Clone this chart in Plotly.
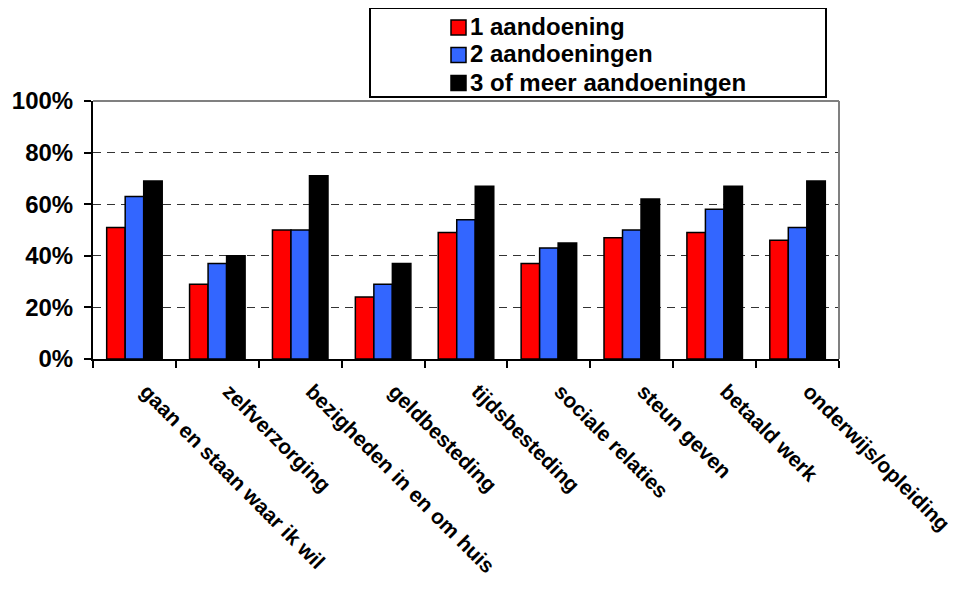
import plotly.graph_objects as go

categories = ["gaan en staan waar ik wil", "zelfverzorging", "bezigheden in en om huis",
              "geldbesteding", "tijdsbesteding", "sociale relaties", "steun geven",
              "betaald werk", "onderwijs/opleiding"]
series_names = ["1 aandoening", "2 aandoeningen", "3 of meer aandoeningen"]
one = [51, 29, 50, 24, 49, 37, 47, 49, 46]
two = [63, 37, 50, 29, 54, 43, 50, 58, 51]
three = [69, 40, 71, 37, 67, 45, 62, 67, 69]
colors = ["#FF0000", "#3366FF", "#000000"]
y_ticks = [0, 20, 40, 60, 80, 100]
y_tick_labels = ["0%", "20%", "40%", "60%", "80%", "100%"]

FONT = "Liberation Sans, Arial, sans-serif"

# plot area in screen pixels (page has an 8px body margin)
PX0, PX1, PY0, PY1 = 93, 839, 101, 359


def px(xs):
    return (xs - PX0) / (PX1 - PX0)


def py(ys):
    return (PY1 - ys) / (PY1 - PY0)


fig = go.Figure()
for name, vals, col in zip(series_names, [one, two, three], colors):
    fig.add_trace(go.Bar(x=categories, y=vals, name=name, showlegend=False,
                         marker=dict(color=col, line=dict(color="#000000", width=1.5))))
# empty trace so the label axis (x2) gets drawn
fig.add_trace(go.Scatter(x=[], y=[], xaxis="x2", yaxis="y", showlegend=False,
                         hoverinfo="skip", mode="markers"))

shapes = [
    dict(type="rect", xref="paper", yref="paper", x0=px(370), x1=px(826),
         y0=py(97), y1=py(8), line=dict(color="black", width=2),
         fillcolor="rgba(0,0,0,0)"),
    dict(type="line", xref="paper", yref="paper", x0=0, x1=1, y0=1, y1=1,
         line=dict(color="#808080", width=2)),
    dict(type="line", xref="paper", yref="paper", x0=1, x1=1, y0=0, y1=1,
         line=dict(color="#808080", width=2)),
]
annotations = []
row_centers = [27.5, 55, 83]
for name, col, yc in zip(series_names, colors, row_centers):
    shapes.append(dict(type="rect", xref="paper", yref="paper",
                       x0=px(451), x1=px(466), y0=py(yc + 7.5), y1=py(yc - 7.5),
                       fillcolor=col, line=dict(color="black", width=1.5)))
    annotations.append(dict(xref="paper", yref="paper", x=px(468), y=py(yc - 1),
                            xanchor="left", yanchor="middle", showarrow=False,
                            text=name,
                            font=dict(family=FONT, size=24, weight="bold", color="black")))

n = len(categories)
label_pos = [i + 0.14 for i in range(n)]

fig.update_layout(
    width=956, height=592,
    margin=dict(l=85, r=125, t=93, b=241, autoexpand=False),
    paper_bgcolor="white", plot_bgcolor="white",
    barmode="group", bargap=0.33, bargroupgap=0,
    font=dict(family=FONT, color="black", size=18, weight="bold"),
    showlegend=False,
    shapes=shapes,
    annotations=annotations,
    xaxis=dict(
        type="category", range=[-0.5, n - 0.5], tickson="boundaries",
        ticks="outside", ticklen=7, tickwidth=2, tickcolor="black",
        showline=True, linecolor="black", linewidth=2,
        showgrid=False, showticklabels=False,
    ),
    xaxis2=dict(
        type="linear", overlaying="x", anchor="y", side="bottom",
        range=[-0.5, n - 0.5], tickmode="array", tickvals=label_pos, ticktext=categories,
        ticks="", showline=False, showgrid=False, zeroline=False,
        tickangle=45, ticklabelstandoff=15,
        tickfont=dict(family=FONT, size=21, weight="bold", color="black"),
    ),
    yaxis=dict(
        range=[0, 100], tickvals=y_ticks, ticktext=y_tick_labels,
        ticks="outside", ticklen=7, tickwidth=2, tickcolor="black",
        showline=True, linecolor="black", linewidth=2,
        showgrid=True, gridcolor="#333333", griddash="8px,6px", gridwidth=1,
        zeroline=False, ticklabelstandoff=6,
        tickfont=dict(family=FONT, size=24, weight="bold", color="black"),
    ),
)

fig.write_html("out.html")
